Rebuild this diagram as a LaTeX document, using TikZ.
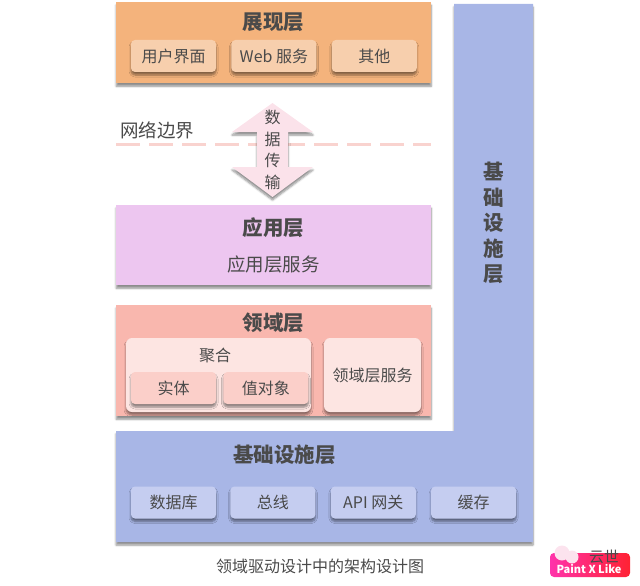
\documentclass[tikz,border=0pt]{standalone}
\usepackage{fontspec}
\setmainfont{Noto Sans CJK SC}
\usepackage{tikz}
\usetikzlibrary{positioning,shadows.blur}
\definecolor{Ink}{HTML}{4A4A4A}
\definecolor{ShowFill}{HTML}{F4B37C}
\definecolor{ShowBox}{HTML}{F7CFAD}
\definecolor{AppFill}{HTML}{EDC6F0}
\definecolor{DomainFill}{HTML}{F9B7AE}
\definecolor{DomainPale}{HTML}{FDE5E2}
\definecolor{DomainBox}{HTML}{FBCFC9}
\definecolor{InfraFill}{HTML}{A8B6E6}
\definecolor{InfraBox}{HTML}{C5CDF0}
\definecolor{Edge}{HTML}{F9D3CF}
\definecolor{Transfer}{HTML}{FBE2EA}
\definecolor{MarkLeft}{HTML}{FF33AA}
\definecolor{MarkRight}{HTML}{FF2233}
\definecolor{Bubble}{HTML}{FCE3EE}
\tikzset{
  softshadow/.style={blur shadow={shadow xshift=0pt, shadow yshift=-3pt, shadow blur radius=2pt, shadow blur steps=6, shadow opacity=45}},
  layer/.style={softshadow, anchor=north west, inner sep=0pt},
  title/.style={font=\fontsize{20.5}{25}\selectfont\bfseries, text=Ink, inner sep=0pt},
  label/.style={font=\fontsize{18.5}{22}\selectfont, text=Ink, inner sep=0pt},
  small/.style={font=\fontsize{16}{19}\selectfont, text=Ink, inner sep=0pt},
  mini/.style={softshadow, rounded corners=4pt, minimum height=32pt, inner sep=0pt, small},
  showbox/.style={mini, fill=ShowBox, minimum width=85pt},
  domainbox/.style={mini, fill=DomainBox, minimum width=85pt},
  infrabox/.style={mini, fill=InfraBox, minimum width=85pt},
  bubble/.style={circle, fill=Bubble, inner sep=0pt}
}
\begin{document}
\begin{tikzpicture}[x=1pt, y=-1pt]
\useasboundingbox (0,0) rectangle (640,586);
% infrastructure
\fill[InfraFill, softshadow] (454,4) -- (533,4) -- (533,542) -- (116,542) -- (116,431) -- (454,431) -- cycle;
\node[title, align=center, text width=22pt, font=\fontsize{20.5}{25.5}\selectfont\bfseries] (infraside) at (493.5,223) {基\\础\\设\\施\\层};
\node[title] (infra) at (284.5,455) {基础设施层};
\node[infrabox] (db) at (173.5,502.5) {数据库};
\node[infrabox, right=14pt of db] (bus) {总线};
\node[infrabox, right=15pt of bus] (gateway) {API 网关};
\node[infrabox, right=15pt of gateway] (cache) {缓存};
% presentation
\node[layer, fill=ShowFill, minimum width=315pt, minimum height=81pt] (show) at (116,2) {};
\node[title, below=10.5pt of show.north] (showtitle) {展现层};
\node[showbox] (ui) at (173.5,56) {用户界面};
\node[showbox, right=15pt of ui] (web) {Web 服务};
\node[showbox, right=15pt of web] (other) {其他};
% network edge
\coordinate (edgeleft) at (116,144.5);
\coordinate (edgeright) at (431,144.5);
\draw[Edge, line width=2.6pt, dash pattern=on 24pt off 9pt] (edgeleft) -- (edgeright);
\node[label, anchor=west] (edge) at (120,130) {网络边界};
\fill[Transfer, softshadow] (272.5,103) -- (313,132) -- (288,132) -- (288,167) -- (313,167) -- (272.5,197) -- (232,167) -- (257,167) -- (257,132) -- (232,132) -- cycle;
\node[small, text width=18pt, align=center, font=\fontsize{16}{21.5}\selectfont] (transfer) at (272.5,150) {数\\据\\传\\输};
% application
\node[layer, fill=AppFill, minimum width=315pt, minimum height=80pt] (app) at (116,205) {};
\node[title, below=12pt of app.north] (apptitle) {应用层};
\node[label, below=50.5pt of app.north] (appservice) {应用层服务};
% domain
\node[layer, fill=DomainFill, minimum width=315pt, minimum height=111pt] (domain) at (116,305) {};
\node[title, below=8pt of domain.north] (domaintitle) {领域层};
\node[mini, fill=DomainPale, rounded corners=6pt, minimum width=185pt, minimum height=74pt] (aggregate) at (218.5,375) {};
\node[small] (aggregatetitle) at (215,355) {聚合};
\node[domainbox] (entity) at (173.5,388) {实体};
\node[domainbox, right=7pt of entity] (value) {值对象};
\node[mini, fill=DomainPale, rounded corners=6pt, minimum width=97pt, minimum height=74pt] (domainservice) at (372.5,375) {领域层服务};
% caption
\node[small] (caption) at (320,566) {领域驱动设计中的架构设计图};
% mark
\node[left color=MarkLeft, right color=MarkRight, rounded corners=4pt, minimum width=80pt, minimum height=24pt, inner sep=0pt] (mark) at (590,565) {};
\node[inner sep=0pt, text=white, font=\fontsize{11}{13}\selectfont\bfseries] (marktext) at (589,569) {Paint X Like};
\node[bubble, minimum size=15pt] (bubbleback) at (562,553) {};
\node[bubble, minimum size=13pt] (bubblefront) at (572,557) {};
\node[small, font=\fontsize{15}{17}\selectfont] (markname) at (604,557) {云世};
\end{tikzpicture}
\end{document}
